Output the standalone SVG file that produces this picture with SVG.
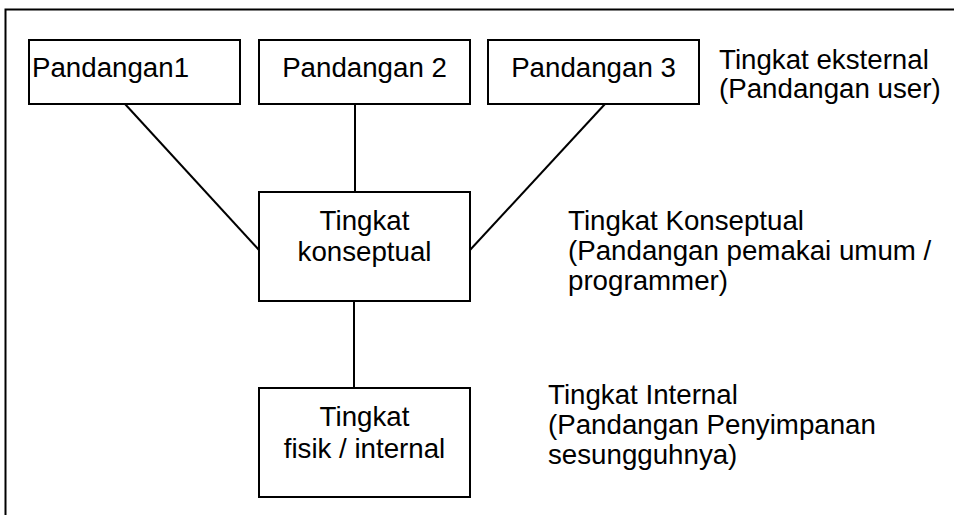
<svg xmlns="http://www.w3.org/2000/svg" width="954" height="515" viewBox="0 0 954 515">
  <style>
    .box { fill: #ffffff; stroke: #000000; stroke-width: 2; }
    .link { stroke: #000000; stroke-width: 2; fill: none; }
    .t { font-family: "Liberation Sans", Arial, sans-serif; font-size: 27.7px; fill: #000000; }
    .c { text-anchor: middle; }
  </style>
  <rect x="0" y="0" width="954" height="515" fill="#ffffff"/>
  <!-- outer frame (continues past the right and bottom edges) -->
  <rect x="5.5" y="9.5" width="980" height="540" fill="none" stroke="#000000" stroke-width="2"/>

  <g id="connectors">
    <line class="link" x1="125" y1="104" x2="259" y2="250"/>
    <line class="link" x1="355" y1="104" x2="355" y2="192"/>
    <line class="link" x1="605" y1="104" x2="470" y2="250"/>
    <line class="link" x1="354" y1="301" x2="354" y2="388"/>
  </g>

  <g id="pandangan1">
    <rect class="box" x="29" y="40" width="211" height="64"/>
    <text class="t" x="32" y="77">Pandangan1</text>
  </g>
  <g id="pandangan2">
    <rect class="box" x="259" y="40" width="211" height="64"/>
    <text class="t c" x="364.5" y="77">Pandangan 2</text>
  </g>
  <g id="pandangan3">
    <rect class="box" x="488" y="40" width="211" height="64"/>
    <text class="t c" x="593.5" y="77">Pandangan 3</text>
  </g>
  <g id="konseptual">
    <rect class="box" x="259" y="192" width="211" height="109"/>
    <text class="t c" x="364.5" y="230">Tingkat</text>
    <text class="t c" x="364.5" y="261">konseptual</text>
  </g>
  <g id="internal">
    <rect class="box" x="259" y="388" width="211" height="109"/>
    <text class="t c" x="364.5" y="426">Tingkat</text>
    <text class="t c" x="364.5" y="458">fisik / internal</text>
  </g>

  <g id="level-labels">
    <text class="t" x="719" y="69">Tingkat eksternal</text>
    <text class="t" x="719" y="98">(Pandangan user)</text>
    <text class="t" x="568" y="230">Tingkat Konseptual</text>
    <text class="t" x="568" y="260">(Pandangan pemakai umum /</text>
    <text class="t" x="568" y="290">programmer)</text>
    <text class="t" x="548" y="404">Tingkat Internal</text>
    <text class="t" x="548" y="434">(Pandangan Penyimpanan</text>
    <text class="t" x="548" y="464">sesungguhnya)</text>
  </g>
</svg>
